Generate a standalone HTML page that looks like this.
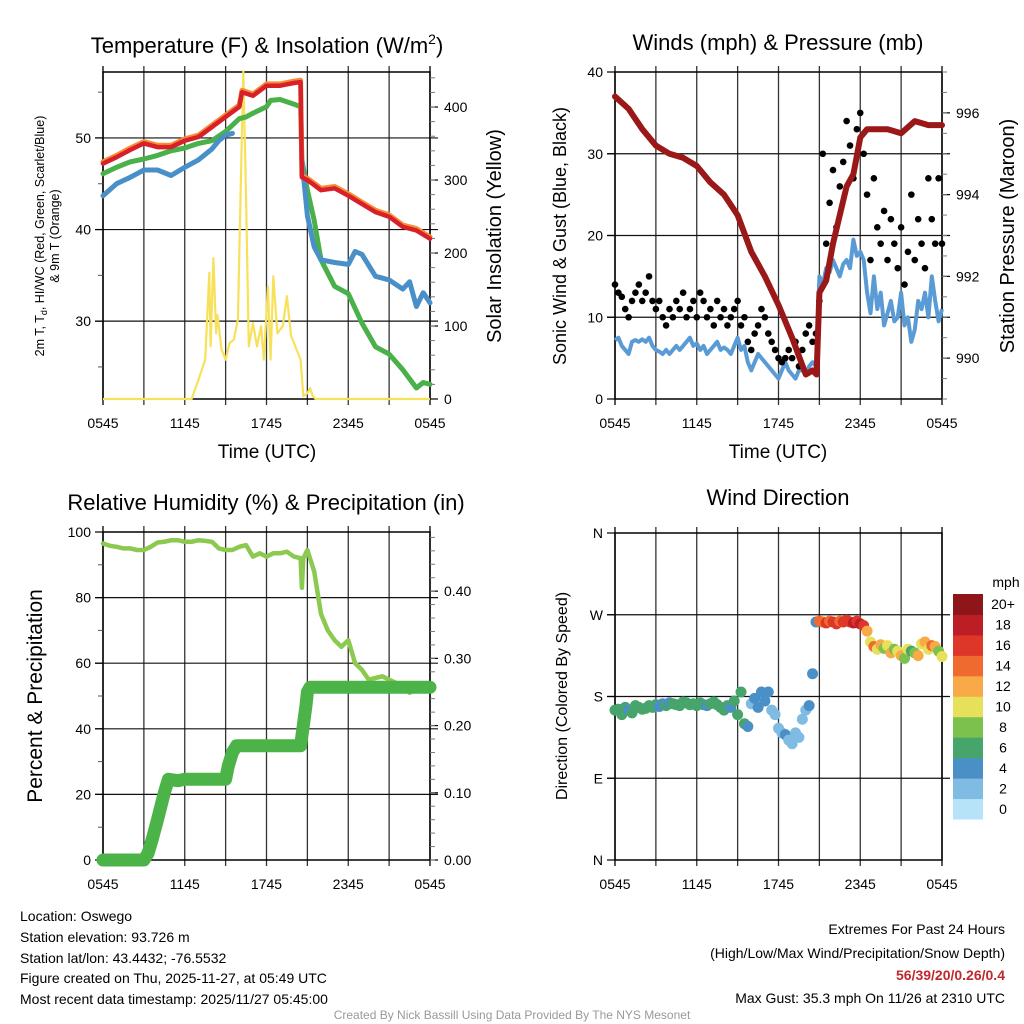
<!DOCTYPE html>
<html><head><meta charset="utf-8">
<style>
body{margin:0;background:#fff;}
svg{display:block;font-family:"Liberation Sans",sans-serif;}
</style></head>
<body>
<svg id="fig" width="1024" height="1024" viewBox="0 0 1024 1024">
<g id="static">
<text x="267" y="53" font-size="22" text-anchor="middle">Temperature (F) &amp; Insolation (W/m<tspan font-size="14" dy="-9">2</tspan><tspan dy="9">)</tspan></text>
<text x="778" y="50" font-size="22" text-anchor="middle">Winds (mph) &amp; Pressure (mb)</text>
<text x="266" y="510" font-size="22" text-anchor="middle">Relative Humidity (%) &amp; Precipitation (in)</text>
<text x="778" y="505" font-size="22" text-anchor="middle">Wind Direction</text>

<text x="267" y="458" font-size="19" text-anchor="middle">Time (UTC)</text>
<text x="778" y="458" font-size="19" text-anchor="middle">Time (UTC)</text>

<g transform="translate(44,236) rotate(-90)">
<text x="0" y="0" font-size="12.5" text-anchor="middle">2m T, T<tspan font-size="9" dy="3">d</tspan><tspan dy="-3">, HI/WC (Red, Green, Scarlet/Blue)</tspan></text>
<text x="0" y="15" font-size="12.5" text-anchor="middle">&amp; 9m T (Orange)</text>
</g>
<text transform="translate(501,236) rotate(-90)" font-size="20" text-anchor="middle">Solar Insolation (Yellow)</text>
<text transform="translate(566,236) rotate(-90)" font-size="18" text-anchor="middle">Sonic Wind &amp; Gust (Blue, Black)</text>
<text transform="translate(1014,236) rotate(-90)" font-size="20" text-anchor="middle">Station Pressure (Maroon)</text>
<text transform="translate(42,696) rotate(-90)" font-size="21" text-anchor="middle">Percent &amp; Precipitation</text>
<text transform="translate(567,696) rotate(-90)" font-size="16" text-anchor="middle">Direction (Colored By Speed)</text>

<g font-size="14">
<text x="20" y="921">Location: Oswego</text>
<text x="20" y="942">Station elevation: 93.726 m</text>
<text x="20" y="963">Station lat/lon: 43.4432; -76.5532</text>
<text x="20" y="983">Figure created on Thu, 2025-11-27, at 05:49 UTC</text>
<text x="20" y="1004">Most recent data timestamp: 2025/11/27 05:45:00</text>
</g>
<g font-size="14" text-anchor="end">
<text x="1005" y="934">Extremes For Past 24 Hours</text>
<text x="1005" y="958">(High/Low/Max Wind/Precipitation/Snow Depth)</text>
<text x="1005" y="980" fill="#c0282d" font-weight="bold">56/39/20/0.26/0.4</text>
<text x="1005" y="1003">Max Gust: 35.3 mph On 11/26 at 2310 UTC</text>
</g>
<text x="512" y="1019" font-size="12" fill="#999" text-anchor="middle">Created By Nick Bassill Using Data Provided By The NYS Mesonet</text>
</g>
</svg>
<script>
// ---------- DATA ----------
const timeLabels = ["0545","1145","1745","2345","0545"];
const tempTimes = [0,1,2,3,4,5,6,7,8,9,10,10.2,11,12,13,14,14.5,14.6,15,16,17,18,19,20,21,22,23,24];
const tempRed =   [47.2,47.9,48.7,49.4,49.0,49.0,49.7,50.1,51.2,52.3,53.4,55.0,54.6,55.7,55.7,56.0,56.1,45.7,45.4,44.3,44.5,43.7,42.8,41.9,41.4,40.3,39.9,39.0];
const tempOrange =[47.4,48.1,48.9,49.6,49.2,49.2,49.9,50.3,51.4,52.5,53.6,55.2,54.8,55.9,55.9,56.2,56.3,45.9,45.6,44.5,44.7,43.9,43.0,42.1,41.6,40.5,40.1,39.2];
const dewTimes = [0,1,2,3,4,5,6,7,8,9,10,10.5,11,12,12.3,13,14,14.5,14.6,15,15.5,16,17,18,19,20,21,22,23,23.5,24];
const dewVals =  [46.1,46.8,47.4,47.7,48.1,48.6,48.9,49.4,49.7,50.7,52.1,52.3,52.7,53.4,54.1,54.2,53.7,53.4,47.6,44.3,41.0,36.7,33.8,33.0,29.8,27.2,26.4,24.7,22.7,23.3,23.1];
const hiTimes = [0,1,2,3,4,5,6,7,8,8.5,9,9.5,null,14.6,15,15.5,16,17,18,18.5,19,20,21,22,22.5,23,23.5,24];
const hiVals =  [43.7,45.0,45.7,46.5,46.5,45.9,46.8,47.6,48.8,49.7,50.3,50.5,null,47.6,41.5,38.1,36.7,36.4,36.2,37.6,37.3,34.9,34.5,33.5,34.3,31.6,33.1,32.0];
const solarTimes = [0,6.5,7,7.5,7.8,7.9,8.1,8.3,8.4,8.7,9,9.3,9.6,9.9,10.1,10.3,10.5,10.7,11,11.3,11.6,11.8,12,12.1,12.3,12.5,12.8,13.2,13.5,13.8,14.2,14.5,14.7,15,15.2,15.4,15.6,24];
const solarVals =  [0,0,26,54,173,72,193,90,115,68,54,77,81,109,282,449,273,72,104,72,100,54,118,154,54,168,90,100,141,87,68,54,4,8,15,4,0,0];
const windSpeed = [7.2,7.5,6.5,6,5.5,7,7.2,7,7.3, 7,7.5,6.5,6,5.8,5.5,6,5.5, 6,6.5,6,6.5,7,7.5,6.5,6.8, 6,6.5,5.5,6,6.5,7,6,6.3, 6,5.5,6.5,7.5,6,6.5, 4.5,3.5,4.5,5.5,5,4.5, 4,3.5,3,2.5,3.5,4.5, 3.5,3,2.5,3.5,3.5,3, 4,4.5,4,15, 14,16,15.5,17,16,15, 16.5,17,16,19.5,17.5,18, 17,13,10.5,15,11,13, 9,10.5,12,9.5,10,13, 9,10,7,8.5,12,11, 13,10,15,12,9.5,11];
const windGust = [14,13,12.5,11,10,12,13,14,12, 13,15,12,11,12,10,9,11, 10,12,11,13,10,11,12,10, 13,12,10,11,9,12,10,11, 9,10,11,12,9,10, 7,6,8,9,11,10, 8,7,6,5,4.5,5, 6,5,7,4,6,8, 9,7,8,12, 30,19,24,28,21,26, 29,34,31,27,33,35, 30,25,17,27,21,19, 23,17,22,19,16,21, 14,18,25,17,22,19, 16,27,22,19,27,19];
const pressTimes = [0,1,2,3,4,5,6,7,8,9,10,11,12,13,14,14.5,14.8,15,15.5,16,16.5,17,17.5,18,18.5,19,20,21,22,23,24];
const pressVals =  [996.4,996.1,995.6,995.2,995.0,994.9,994.7,994.3,994.0,993.5,992.6,992.0,991.3,990.5,989.6,989.7,989.6,991.6,991.9,992.8,993.5,994.2,994.5,995.4,995.6,995.6,995.6,995.5,995.8,995.7,995.7];
const windDir = [165,166,160,168,165,162,170,168,166, 167,170,168,171,169,172,170,173, 172,171,170,174,173,171,172,170, 173,171,170,172,174,171,168,165, 170,168,175,160,185,150, 147,172,178,168,185,175, 185,165,160,145,140,138, 132,128,140,135,155,165, 170,205,262,263, 262,261,263,262,260,263, 262,264,262,261,263,260, 258,252,240,235,232,237, 233,236,228,232,230,225, 222,232,230,228,225,238, 240,232,236,235,230,224];
const rhTimes = [0,0.5,1,1.5,2,2.5,3,3.5,4,4.5,5,5.5,6,6.5,7,7.5,8,8.5,9,9.5,10,10.5,11,11.5,12,12.5,13,13.5,14,14.5,14.6,14.7,15,15.5,16,16.5,17,17.5,18,18.5,19,19.5,20,20.5,21,21.5,22,22.5,23,23.5,24];
const rhVals =  [96.5,95.8,95.5,95,95,94.5,94.5,95.5,96.8,97,97.5,97.5,97,97,97.5,97.3,97,95,94.5,94.5,95.5,96,92.5,93.5,92.5,93.5,93.5,94,92.5,92,83,92,94.5,88,75,70,67,65,67,60,58,55,55.5,56,55,54,53,51,52,53,52];
const precipTimes = [0,3,3.3,3.6,4,4.5,4.8,5.5,6,9,9.2,9.5,9.8,14.5,14.7,14.9,15,15.2,24];
const precipVals =  [0,0,0.01,0.03,0.06,0.10,0.12,0.118,0.12,0.12,0.14,0.16,0.17,0.17,0.20,0.23,0.25,0.257,0.257];
const speedBins = ["0","2","4","6","8","10","12","14","16","18","20+"];
const binColors = ["#b7e3f8","#80bbe4","#4a8fc6","#47a56c","#7cc14e","#e6e05a","#f7aa45","#ef6a2e","#de3628","#bd1d24","#8e1518"];

// ---------- HELPERS ----------
const NS = "http://www.w3.org/2000/svg";
const svg = document.getElementById('fig');
function mk(tag, attrs, parent){
  const e = document.createElementNS(NS, tag);
  for (const k in attrs) e.setAttribute(k, attrs[k]);
  (parent||svg).appendChild(e);
  return e;
}
function scaleX(p, t){ return p.x0 + t/24*(p.x1-p.x0); }
function scaleY(p, v, dom){ return p.y1 - (v-dom[0])/(dom[1]-dom[0])*(p.y1-p.y0); }
function pathFrom(p, times, vals, dom){
  let d="", pen=false;
  for (let i=0;i<times.length;i++){
    if (times[i]===null || vals[i]===null){ pen=false; continue; }
    d += (pen?"L":"M") + scaleX(p,times[i]).toFixed(1) + "," + scaleY(p,vals[i],dom).toFixed(1);
    pen=true;
  }
  return d;
}
const qTimes = windSpeed.map((_,i)=>i*0.25);

const P1={x0:103,x1:430,y0:72,y1:399,L:[21.5,57.2],R:[0,448]};
const P2={x0:615,x1:942,y0:72,y1:399,L:[0,40],R:[989.0,997.0]};
const P3={x0:103,x1:430,y0:532,y1:860,L:[0,100],R:[0,0.488]};
const P4={x0:615,x1:942,y0:533,y1:860,L:[0,360]};

function frame(p, name, hGridVals, leftTicks, leftLabels, leftMinor, rightTicks, rightLabels, rightMinor){
  const g = mk('g',{});
  
  
  for (let h=0; h<=24; h+=3){
    const x = scaleX(p,h);
    const l = mk('line',{x1:x,x2:x,y1:p.y0-6,y2:p.y1+6,stroke:(h===0||h===24)?'#000':'#333','stroke-width':1.3},g);
    
    
  }
  for (const v of hGridVals){
    const y = scaleY(p,v,p.L);
    const l = mk('line',{x1:p.x0-8,x2:p.x1+8,y1:y,y2:y,stroke:'#111','stroke-width':1.2},g);
    
    
  }
  const border = mk('rect',{x:p.x0,y:p.y0,width:p.x1-p.x0,height:p.y1-p.y0,fill:'none',stroke:'#000','stroke-width':1.5},g);
  
  
  leftTicks.forEach((v,i)=>{
    const y = scaleY(p,v,p.L);
    mk('line',{x1:p.x0-8,x2:p.x0,y1:y,y2:y,stroke:'#000','stroke-width':1.2},g);
    const t = mk('text',{x:p.x0-12,y:y+5,'font-size':14,'text-anchor':'end'},g);
    t.textContent = leftLabels[i];
    
    
  });
  for (const v of leftMinor){
    const y = scaleY(p,v,p.L);
    mk('line',{x1:p.x0-5,x2:p.x0,y1:y,y2:y,stroke:'#555','stroke-width':1},g);
  }
  if (rightTicks){
    rightTicks.forEach((v,i)=>{
      const y = scaleY(p,v,p.R);
      mk('line',{x1:p.x1,x2:p.x1+8,y1:y,y2:y,stroke:'#000','stroke-width':1.2},g);
      const t = mk('text',{x:p.x1+14,y:y+5,'font-size':14},g);
      t.textContent = rightLabels[i];
      
      
    });
    for (const v of rightMinor){
      const y = scaleY(p,v,p.R);
      mk('line',{x1:p.x1,x2:p.x1+5,y1:y,y2:y,stroke:'#777','stroke-width':1},g);
    }
  }
  timeLabels.forEach((lab,i)=>{
    const x = scaleX(p,i*6);
    const t = mk('text',{x:x,y:p.y1+29,'font-size':14,'text-anchor':'middle'},g);
    t.textContent = lab;
    
    
  });
}
function range(a,b,s){ const r=[]; for(let v=a; v<=b+1e-9; v+=s) r.push(+v.toFixed(4)); return r; }

// ---------- PANEL 1 ----------
frame(P1,'temp',[30,40,50],[30,40,50],["30","40","50"],[25,35,45,55],[0,100,200,300,400],["0","100","200","300","400"],range(20,440,20));
let e;
e = mk('path',{d:pathFrom(P1,solarTimes,solarVals,P1.R),fill:'none',stroke:'#f8e15a','stroke-width':2.2,'stroke-linejoin':'round'});


e = mk('path',{d:pathFrom(P1,dewTimes,dewVals,P1.L),fill:'none',stroke:'#4ab04a','stroke-width':5,'stroke-linejoin':'round','stroke-linecap':'round'});


e = mk('path',{d:pathFrom(P1,hiTimes,hiVals,P1.L),fill:'none',stroke:'#4a90c8','stroke-width':5,'stroke-linejoin':'round','stroke-linecap':'round'});


e = mk('path',{d:pathFrom(P1,tempTimes,tempOrange,P1.L),fill:'none',stroke:'#f98b35','stroke-width':5,'stroke-linejoin':'round','stroke-linecap':'round'});


e = mk('path',{d:pathFrom(P1,tempTimes,tempRed,P1.L),fill:'none',stroke:'#d7202a','stroke-width':4.5,'stroke-linejoin':'round','stroke-linecap':'round'});



// ---------- PANEL 2 ----------
frame(P2,'wind',[10,20,30],[0,10,20,30,40],["0","10","20","30","40"],[],[990,992,994,996],["990","992","994","996"],range(989,997,0.5));
e = mk('path',{d:pathFrom(P2,qTimes,windSpeed,P2.L),fill:'none',stroke:'#5b9bd5','stroke-width':4,'stroke-linejoin':'round'});


const gustG = mk('g',{});


windGust.forEach((v,i)=>{
  const c = mk('circle',{cx:scaleX(P2,qTimes[i]),cy:scaleY(P2,v,P2.L),r:3.3,fill:'#000'},gustG);
  
  
});
e = mk('path',{d:pathFrom(P2,pressTimes,pressVals,P2.R),fill:'none',stroke:'#9a1818','stroke-width':6,'stroke-linejoin':'round','stroke-linecap':'round'});



// ---------- PANEL 3 ----------
frame(P3,'rh',[20,40,60,80],[0,20,40,60,80,100],["0","20","40","60","80","100"],[10,30,50,70,90],[0,0.1,0.2,0.3,0.4],["0.00","0.10","0.20","0.30","0.40"],range(0,0.48,0.02));
e = mk('path',{d:pathFrom(P3,rhTimes,rhVals,P3.L),fill:'none',stroke:'#8cc94f','stroke-width':4.5,'stroke-linejoin':'round','stroke-linecap':'round'});


e = mk('path',{d:pathFrom(P3,precipTimes,precipVals,P3.R),fill:'none',stroke:'#4bb348','stroke-width':13,'stroke-linejoin':'round','stroke-linecap':'round'});



// ---------- PANEL 4 ----------
frame(P4,'direction',[90,180,270],[0,90,180,270,360],["N","E","S","W","N"],[],null,null,null);
const dirG = mk('g',{});


windDir.forEach((v,i)=>{
  const bin = Math.min(10, Math.floor(windSpeed[i]/2));
  const c = mk('circle',{cx:scaleX(P4,qTimes[i]),cy:scaleY(P4,v,P4.L),r:5.5,fill:binColors[bin]},dirG);
  
  
});
const cb = mk('g',{});


const cbTop=594, cbH=225, cbX=953, cbW=30, step=cbH/speedBins.length;
speedBins.forEach((lab,i)=>{
  const y = cbTop + (speedBins.length-1-i)*step;
  const r = mk('rect',{x:cbX,y:y,width:cbW,height:step+0.5,fill:binColors[i]},cb);
  
  
  const t = mk('text',{x:1003,y:y+step/2+5,'font-size':14,'text-anchor':'middle'},cb);
  t.textContent = lab;
  
  
});
const mph = mk('text',{x:1006,y:587,'font-size':14,'text-anchor':'middle'},cb);
mph.textContent = 'mph';


</script>
</body></html>
